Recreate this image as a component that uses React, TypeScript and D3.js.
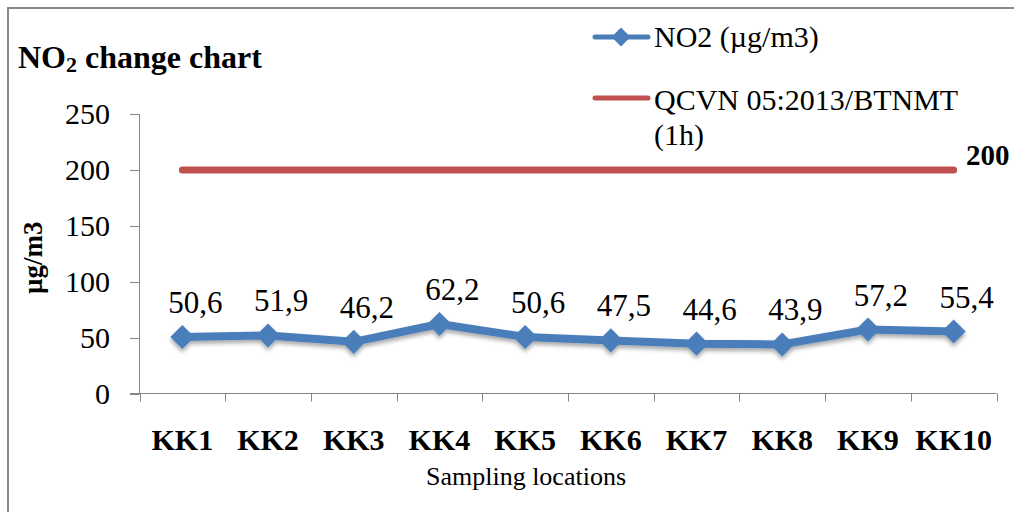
import React from 'react';
import * as d3 from 'd3';

const categories = ['KK1', 'KK2', 'KK3', 'KK4', 'KK5', 'KK6', 'KK7', 'KK8', 'KK9', 'KK10'];
const no2Values = [50.6, 51.9, 46.2, 62.2, 50.6, 47.5, 44.6, 43.9, 57.2, 55.4];
const standardValue = 200;
const yTicks = [0, 50, 100, 150, 200, 250];
const legendLabels = ['NO2 (µg/m3)', 'QCVN 05:2013/BTNMT', '(1h)'];
const titleParts = ['NO', '2', ' change chart'];
const yAxisTitle = 'µg/m3';
const xAxisTitle = 'Sampling locations';

const W = 1014;
const H = 512;
const FONT = "'Liberation Serif', 'Times New Roman', serif";
const BLUE = '#4a7ebb';
const RED = '#c0504d';
const AXIS = '#868686';

export default function App() {
  const x = d3.scaleBand<string>().domain(categories).range([139.5, 996.5]).padding(0);
  const y = d3.scaleLinear().domain([0, 250]).range([393.5, 114]);
  const cx = (c: string) => (x(c) as number) + x.bandwidth() / 2;
  const fmt = (v: number) => d3.format('.1f')(v).replace('.', ',');

  const seriesLine = d3
    .line<number>()
    .x((_, i) => cx(categories[i]))
    .y((d) => y(d));
  const stdLine = d3
    .line<string>()
    .x((c) => cx(c))
    .y(() => y(standardValue));

  const marker = d3.symbol().type(d3.symbolSquare).size(290)() as string;
  const legendMarker = d3.symbol().type(d3.symbolSquare).size(180)() as string;

  const boundaries = categories.map((c) => x(c) as number).concat([x.range()[1]]);
  const [y0, y1] = y.range();
  const xLeft = x.range()[0];

  return (
    <svg
      width={W}
      height={H}
      viewBox={`0 0 ${W} ${H}`}
      style={{ position: 'absolute', left: 0, top: 0, background: '#fff' }}
      fontFamily={FONT}
    >
      <defs>
        <filter id="shadow" x="-30%" y="-30%" width="160%" height="180%">
          <feDropShadow dx="0" dy="3" stdDeviation="2" floodColor="#000" floodOpacity="0.35" />
        </filter>
      </defs>
      <rect x={0} y={0} width={W} height={H} fill="#fff" />
      {/* outer border (only top & left visible) */}
      <rect x={8} y={8} width={W + 20} height={H + 20} fill="none" stroke="#898989" strokeWidth={2} />

      {/* title */}
      <text x={18} y={68} fontSize={32} fontWeight="bold" fill="#000">
        {titleParts[0]}
        <tspan fontSize={22} dy={4}>{titleParts[1]}</tspan>
        <tspan dy={-4}>{titleParts[2]}</tspan>
      </text>

      {/* y axis */}
      <line x1={xLeft} x2={xLeft} y1={y1} y2={y0} stroke={AXIS} strokeWidth={1} />
      {yTicks.map((t) => (
        <g key={t}>
          <line x1={130} x2={xLeft} y1={Math.round(y(t)) + 0.5} y2={Math.round(y(t)) + 0.5} stroke={AXIS} />
          <text x={110} y={y(t) + 10} textAnchor="end" fontSize={30} fill="#000">
            {t}
          </text>
        </g>
      ))}
      <text
        transform={`translate(42, ${(y0 + y1) / 2 + 4}) rotate(-90)`}
        textAnchor="middle"
        fontSize={27}
        fontWeight="bold"
        fill="#000"
      >
        {yAxisTitle}
      </text>

      {/* x axis */}
      <line x1={130} x2={x.range()[1]} y1={y0} y2={y0} stroke={AXIS} />
      {boundaries.map((b, i) => (
        <line key={i} x1={Math.round(b) + 0.5} x2={Math.round(b) + 0.5} y1={y0} y2={y0 + 8} stroke={AXIS} />
      ))}
      {categories.map((c) => (
        <text key={c} x={cx(c)} y={450} textAnchor="middle" fontSize={30} fontWeight="bold" fill="#000">
          {c}
        </text>
      ))}
      <text x={526} y={485} textAnchor="middle" fontSize={26} fill="#000">
        {xAxisTitle}
      </text>

      {/* standard line */}
      <path d={stdLine(categories) as string} fill="none" stroke={RED} strokeWidth={7} strokeLinecap="round" />
      <text x={966} y={165} fontSize={29} fontWeight="bold" fill="#000">
        {standardValue}
      </text>

      {/* NO2 series */}
      <g filter="url(#shadow)">
        <path d={seriesLine(no2Values) as string} fill="none" stroke={BLUE} strokeWidth={8} strokeLinejoin="round" />
        {no2Values.map((v, i) => (
          <path
            key={i}
            d={marker}
            transform={`translate(${cx(categories[i])}, ${y(v)}) rotate(45)`}
            fill={BLUE}
          />
        ))}
      </g>
      {no2Values.map((v, i) => (
        <text key={i} x={cx(categories[i]) + 13} y={y(v) - 24} textAnchor="middle" fontSize={31} fill="#000">
          {fmt(v)}
        </text>
      ))}

      {/* legend */}
      <line x1={595} x2={648} y1={37} y2={37} stroke={BLUE} strokeWidth={5} strokeLinecap="round" />
      <path d={legendMarker} transform="translate(621, 37) rotate(45)" fill={BLUE} />
      <text x={654} y={47} fontSize={30} fill="#000">
        {legendLabels[0]}
      </text>
      <line x1={595} x2={648} y1={98} y2={98} stroke={RED} strokeWidth={5} strokeLinecap="round" />
      <text x={654} y={110} fontSize={30} fill="#000">
        {legendLabels[1]}
      </text>
      <text x={654} y={145} fontSize={30} fill="#000">
        {legendLabels[2]}
      </text>
    </svg>
  );
}
